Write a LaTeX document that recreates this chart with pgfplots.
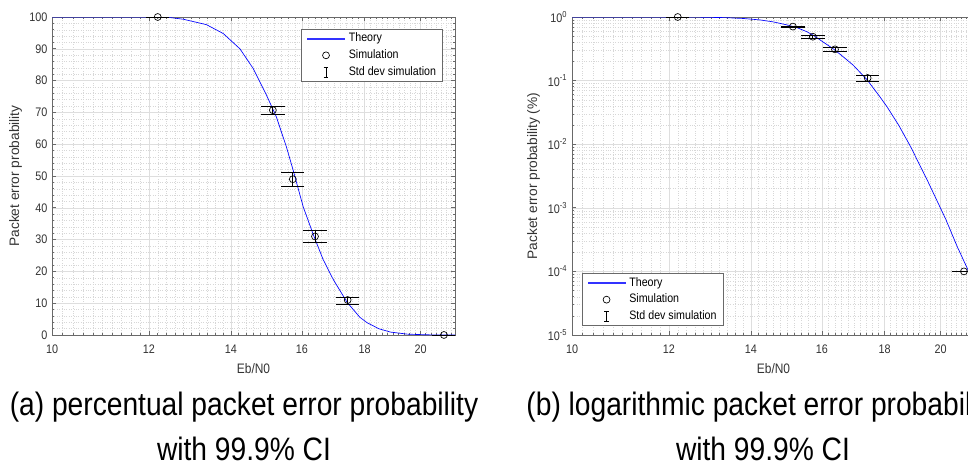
\documentclass[border=0pt]{standalone}
\usepackage{pgfplots}
\pgfplotsset{compat=1.18}
\usepackage{pgfplotstable}
\usepackage{fontspec}
\setmainfont{Liberation Sans}[FakeStretch=0.87]
\newfontfamily\labfont{Liberation Sans}
\usetikzlibrary{calc}

\definecolor{axgray}{RGB}{105,105,105}
\definecolor{txtgray}{RGB}{51,51,51}
\definecolor{gridmaj}{RGB}{222,222,222}
\definecolor{gridmin}{RGB}{215,215,215}
\definecolor{theoryblue}{RGB}{0,0,255}

% theory curve, percent
\pgfplotstableread{
x pct
10.00 100
11.00 100
12.00 99.99
12.50 99.8
12.80 99.3
13.37 97.6
13.80 94.8
14.24 90.0
14.60 83.8
14.97 75.4
15.25 68.6
15.54 59.2
15.74 51.8
16.04 40.3
16.35 31.5
16.65 23.8
16.97 17.5
17.42 10.3
17.84 5.6
18.09 3.86
18.50 1.95
18.91 0.91
19.51 0.272
20.20 0.0657
20.64 0.0244
21.03 0.0112
21.34 0.0058
}\theory

% simulation points with error (percent)
\pgfplotstableread{
x pct ep em
12.20 100 0 0
15.15 70.7 1.1 1.4
15.73 49.0 2.0 2.2
16.40 31.0 1.8 1.9
17.44 11.0 0.9 1.4
20.90 0.01 0 0
}\simdata

\begin{document}
\begin{tikzpicture}
\path[use as bounding box] (0pt,0pt) rectangle (726pt,348.75pt);
\begin{scope}
\clip (0pt,0pt) rectangle (726pt,348.75pt);

% (a) linear axis
\begin{axis}[at={(39pt,97.5pt)}, anchor=south west,
  scale only axis, width=302.25pt, height=238.5pt,
  xmode=log, xmin=10, xmax=21.34,
  xtick={10,12,14,16,18,20}, xticklabels={10,12,14,16,18,20},
  minor xtick={10.2,10.4,...,21.2},
  ymin=0, ymax=100, ytick={0,10,...,100},
  yticklabels={0,10,20,30,40,50,60,70,80,90,100},
  minor y tick num=4,
  grid=both,
  major grid style={gridmaj, line width=0.4pt},
  minor grid style={gridmin, line width=0.3pt, dash pattern=on 0.3pt off 1.5pt},
  axis line style={axgray, line width=0.5pt},
  tick style={axgray, line width=0.5pt},
  tick align=inside,
  major tick length=3pt, minor tick length=1.6pt,
  ticklabel style={font=\fontsize{9.3pt}{11pt}\selectfont, text=txtgray},
  x tick label style={anchor=base, yshift=-13.5pt},
  xlabel={Eb/N0},
  xlabel style={font=\fontsize{10.3pt}{12pt}\selectfont, text=txtgray,
    at={(axis description cs:0.5,0)}, anchor=base, yshift=-28.5pt},
  ylabel={Packet error probability},
  ylabel style={font=\labfont\fontsize{10.3pt}{12pt}\selectfont, text=txtgray,
    at={($(axis description cs:0,0.5)+(-24.75pt,0pt)$)}, anchor=base},
  legend style={font=\fontsize{9.2pt}{11pt}\selectfont, draw=axgray, line width=0.5pt,
    inner xsep=4pt, inner ysep=2pt, row sep=2.5pt,
    nodes={inner sep=1pt, text height=6.3pt, text depth=1.7pt},
    at={(axis description cs:1,1)}, anchor=north east, xshift=-9pt, yshift=-9pt},
  legend cell align=left]
\addplot[theoryblue, line width=0.5pt, forget plot] table[x=x, y=pct] {\theory};
\addplot[only marks, mark=o, mark size=2.6pt, mark options={black, line width=0.5pt}, forget plot,
    error bars/.cd, y dir=both, y explicit, error mark=-,
    error mark options={rotate=90, black, mark size=8.75pt, line width=0.7pt},
    error bar style={black, line width=0.7pt}]
  table[x=x, y=pct, y error plus=ep, y error minus=em] {\simdata};
\addlegendimage{legend image code/.code={\path[draw=none, fill=none] (0pt,-3.5pt) rectangle (30pt,3.5pt); \fill[theoryblue!80] (0pt,-0.2pt) rectangle (27.75pt,0.2pt);}}
\addlegendentry{Theory}
\addlegendimage{legend image code/.code={\path[draw=none, fill=none] (0pt,-3.5pt) rectangle (30pt,3.5pt); \draw[black, line width=0.5pt] (13.9pt,0pt) circle (2.6pt);}}
\addlegendentry{Simulation}
\addlegendimage{legend image code/.code={\path[draw=none, fill=none] (0pt,-3.5pt) rectangle (30pt,3.5pt); \draw[black, line width=0.7pt] (13.9pt,-3.75pt) -- (13.9pt,3.75pt) (12.1pt,-3.75pt) -- (15.7pt,-3.75pt) (12.1pt,3.75pt) -- (15.7pt,3.75pt);}}
\addlegendentry{Std dev simulation}
\end{axis}

% (b) logarithmic axis
\begin{axis}[at={(429pt,97.5pt)}, anchor=south west,
  scale only axis, width=302.25pt, height=238.5pt,
  xmode=log, xmin=10, xmax=21.34,
  xtick={10,12,14,16,18,20}, xticklabels={10,12,14,16,18,20},
  minor xtick={10.2,10.4,...,21.2},
  ymode=log, ymin=1e-5, ymax=1,
  ytick={1e-5,1e-4,1e-3,1e-2,1e-1,1},
  yticklabels={{10\textsuperscript{-5}},{10\textsuperscript{-4}},{10\textsuperscript{-3}},{10\textsuperscript{-2}},{10\textsuperscript{-1}},{10\textsuperscript{0}}},
  grid=both,
  major grid style={gridmaj, line width=0.4pt},
  minor grid style={gridmin, line width=0.3pt, dash pattern=on 0.3pt off 1.5pt},
  axis line style={axgray, line width=0.5pt},
  tick style={axgray, line width=0.5pt},
  tick align=inside,
  major tick length=3pt, minor tick length=1.6pt,
  ticklabel style={font=\fontsize{9.3pt}{11pt}\selectfont, text=txtgray},
  x tick label style={anchor=base, yshift=-13.5pt},
  xlabel={Eb/N0},
  xlabel style={font=\fontsize{10.3pt}{12pt}\selectfont, text=txtgray,
    at={(axis description cs:0.5,0)}, anchor=base, yshift=-28.5pt},
  ylabel={Packet error probability (\%)},
  ylabel style={font=\labfont\fontsize{10.3pt}{12pt}\selectfont, text=txtgray,
    at={($(axis description cs:0,0.5)+(-26.25pt,0pt)$)}, anchor=base},
  legend style={font=\fontsize{9.2pt}{11pt}\selectfont, draw=axgray, line width=0.5pt,
    inner xsep=4pt, inner ysep=2pt, row sep=2.5pt,
    nodes={inner sep=1pt, text height=6.3pt, text depth=1.7pt},
    at={(axis description cs:0,0)}, anchor=south west, xshift=7.5pt, yshift=6.75pt},
  legend cell align=left]
\addplot[theoryblue, line width=0.5pt, forget plot] table[x=x, y expr=\thisrow{pct}/100] {\theory};
\addplot[only marks, mark=o, mark size=2.6pt, mark options={black, line width=0.5pt}, forget plot,
    error bars/.cd, y dir=both, y explicit, error mark=-,
    error mark options={rotate=90, black, mark size=8.75pt, line width=0.7pt},
    error bar style={black, line width=0.7pt}]
  table[x=x, y expr=\thisrow{pct}/100, y error plus expr=\thisrow{ep}/100, y error minus expr=\thisrow{em}/100] {\simdata};
\addlegendimage{legend image code/.code={\path[draw=none, fill=none] (0pt,-3.5pt) rectangle (30pt,3.5pt); \fill[theoryblue!80] (0pt,-0.2pt) rectangle (27.75pt,0.2pt);}}
\addlegendentry{Theory}
\addlegendimage{legend image code/.code={\path[draw=none, fill=none] (0pt,-3.5pt) rectangle (30pt,3.5pt); \draw[black, line width=0.5pt] (13.9pt,0pt) circle (2.6pt);}}
\addlegendentry{Simulation}
\addlegendimage{legend image code/.code={\path[draw=none, fill=none] (0pt,-3.5pt) rectangle (30pt,3.5pt); \draw[black, line width=0.7pt] (13.9pt,-3.75pt) -- (13.9pt,3.75pt) (12.1pt,-3.75pt) -- (15.7pt,-3.75pt) (12.1pt,3.75pt) -- (15.7pt,3.75pt);}}
\addlegendentry{Std dev simulation}
\end{axis}

% captions
\node[anchor=base, font=\fontsize{24.3pt}{29pt}\selectfont] at (183pt,37.5pt) {(a) percentual packet error probability};
\node[anchor=base, font=\fontsize{24.3pt}{29pt}\selectfont] at (183pt,3.75pt) {with 99.9\% CI};
\node[anchor=base, font=\fontsize{24.3pt}{29pt}\selectfont] at (572.25pt,37.5pt) {(b) logarithmic packet error probability};
\node[anchor=base, font=\fontsize{24.3pt}{29pt}\selectfont] at (572.25pt,3.75pt) {with 99.9\% CI};
\end{scope}
\end{tikzpicture}
\end{document}
